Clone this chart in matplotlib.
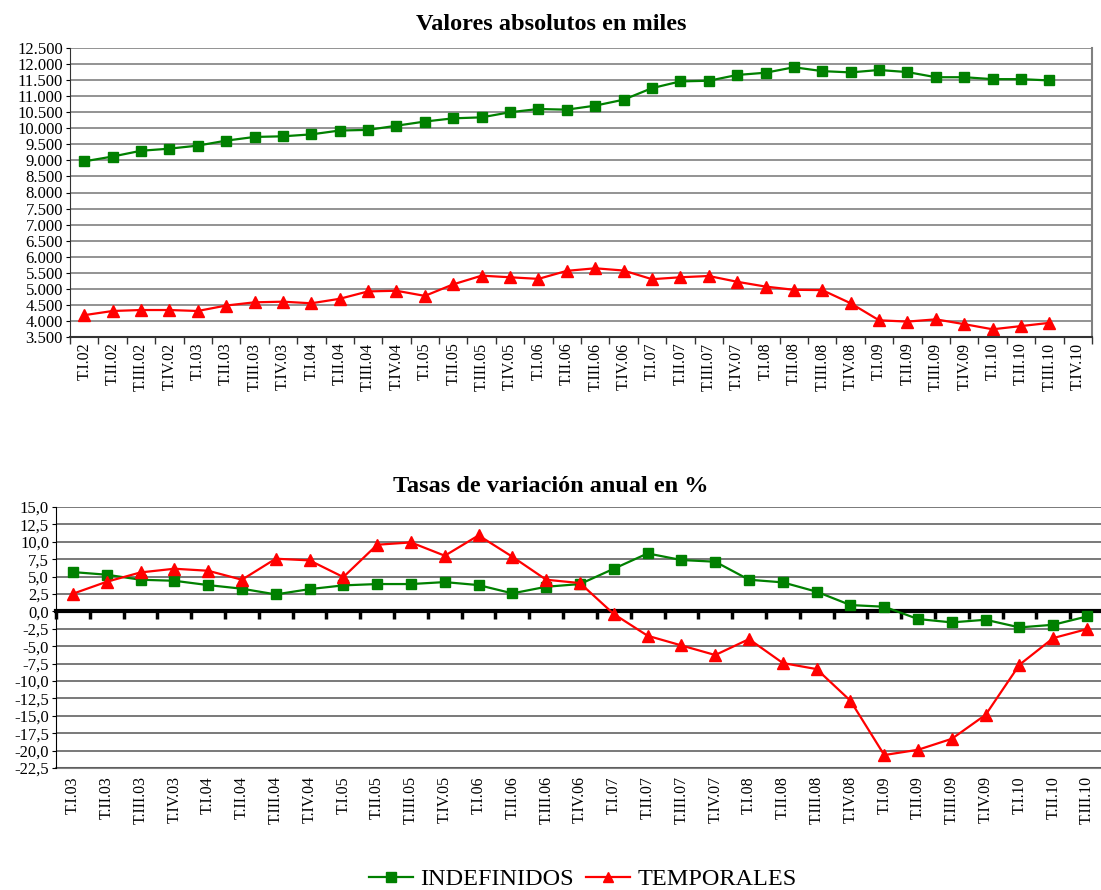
import numpy as np
import matplotlib.pyplot as plt
from matplotlib.ticker import FuncFormatter, FixedLocator

plt.rcParams['font.family'] = ['Liberation Serif', 'DejaVu Serif']

# Quarter labels
top_labels = ['T.I.02', 'T.II.02', 'T.III.02', 'T.IV.02', 'T.I.03', 'T.II.03', 'T.III.03', 'T.IV.03',
              'T.I.04', 'T.II.04', 'T.III.04', 'T.IV.04', 'T.I.05', 'T.II.05', 'T.III.05', 'T.IV.05',
              'T.I.06', 'T.II.06', 'T.III.06', 'T.IV.06', 'T.I.07', 'T.II.07', 'T.III.07', 'T.IV.07',
              'T.I.08', 'T.II.08', 'T.III.08', 'T.IV.08', 'T.I.09', 'T.II.09', 'T.III.09', 'T.IV.09',
              'T.I.10', 'T.II.10', 'T.III.10', 'T.IV.10']
bottom_labels = top_labels[4:35]

# Absolute values (thousands)
indef_abs = [8970, 9120, 9300, 9365, 9460, 9615, 9730, 9750, 9810, 9930, 9950, 10080,
             10210, 10310, 10340, 10500, 10600, 10580, 10705, 10890, 11250, 11460, 11480,
             11660, 11730, 11900, 11780, 11740, 11815, 11750, 11590, 11590, 11530, 11530, 11490]
temp_abs = [4180, 4310, 4340, 4340, 4310, 4480, 4580, 4600, 4550, 4690, 4920, 4940,
            4780, 5140, 5410, 5360, 5310, 5560, 5640, 5570, 5300, 5360, 5400,
            5220, 5070, 4970, 4960, 4550, 4020, 3980, 4050, 3900, 3740, 3840, 3940]

# Annual variation rates (%)
indef_var = [5.65, 5.27, 4.55, 4.4, 3.78, 3.26, 2.44, 3.2, 3.74, 3.93, 3.93, 4.21, 3.78,
             2.59, 3.54, 3.93, 6.13, 8.33, 7.38, 7.14, 4.55, 4.17, 2.83, 0.91, 0.67,
             -1.1, -1.58, -1.2, -2.3, -1.92, -0.72]
temp_var = [2.54, 4.26, 5.6, 6.13, 5.84, 4.55, 7.57, 7.33, 4.93, 9.58, 9.91, 8.0, 10.92,
            7.85, 4.55, 4.07, -0.38, -3.5, -4.89, -6.27, -3.98, -7.42, -8.29, -12.84,
            -20.64, -19.88, -18.3, -14.85, -7.66, -3.83, -2.54]

green = '#008000'
red = '#ff0000'

fig = plt.figure(figsize=(11.01, 8.9), dpi=100)

# ---------- top chart ----------
ax1 = fig.add_axes([70 / 1101, 1 - 337 / 890, 1022 / 1101, 289 / 890])
x1 = np.arange(len(indef_abs))
ax1.plot(x1, indef_abs, color=green, lw=1.6, marker='s', ms=7.5, mec=green, mfc=green)
ax1.plot(x1, temp_abs, color=red, lw=1.6, marker='^', ms=8, mec=red, mfc=red)
ax1.set_xlim(-0.5, len(top_labels) - 0.5)
ax1.set_ylim(3500, 12500)
ax1.set_yticks(np.arange(3500, 12501, 500))
ax1.yaxis.set_major_formatter(FuncFormatter(lambda v, p: f'{int(v):,}'.replace(',', '.')))
ax1.yaxis.grid(True, color='#808080', lw=1.2)
ax1.set_axisbelow(True)
ax1.xaxis.set_major_locator(FixedLocator(np.arange(len(top_labels) + 1) - 0.5))
ax1.xaxis.set_minor_locator(FixedLocator(np.arange(len(top_labels))))
ax1.set_xticklabels([], minor=False)
ax1.set_xticklabels(top_labels, minor=True, rotation=90, fontsize=11.5)
ax1.tick_params(axis='x', which='major', length=5, width=1, color='#333333')
ax1.tick_params(axis='x', which='minor', length=0, pad=4)
ax1.tick_params(axis='y', length=3, labelsize=12, pad=2)
ax1.spines['top'].set_visible(False)
ax1.spines['right'].set_color('#808080')
ax1.spines['right'].set_linewidth(1.5)
ax1.spines['left'].set_color('#333333')
ax1.spines['bottom'].set_color('#333333')
ax1.spines['bottom'].set_linewidth(1.5)
fig.text(551 / 1101, 1 - 24 / 890, 'Valores absolutos en miles', ha='center', va='center',
         fontsize=17.5, fontweight='bold')

# ---------- bottom chart ----------
ax2 = fig.add_axes([56 / 1101, 1 - 768 / 890, 1048 / 1101, 261 / 890])
x2 = np.arange(len(indef_var))
l1, = ax2.plot(x2, indef_var, color=green, lw=1.6, marker='s', ms=7.5, mec=green, mfc=green,
               label='INDEFINIDOS', zorder=4)
l2, = ax2.plot(x2, temp_var, color=red, lw=1.6, marker='^', ms=8, mec=red, mfc=red,
               label='TEMPORALES', zorder=4)
ax2.set_xlim(-0.5, len(bottom_labels) - 0.5)
ax2.set_ylim(-22.5, 15)
ax2.set_yticks(np.arange(-22.5, 15.01, 2.5))
ax2.yaxis.set_major_formatter(FuncFormatter(lambda v, p: f'{v:.1f}'.replace('.', ',')))
ax2.yaxis.grid(True, color='#555555', lw=1.1)
ax2.set_axisbelow(True)
ax2.spines['bottom'].set_position(('data', 0))
ax2.spines['bottom'].set_linewidth(3)
ax2.spines['bottom'].set_zorder(3)
ax2.spines['top'].set_visible(False)
ax2.spines['right'].set_visible(False)
ax2.xaxis.set_major_locator(FixedLocator(np.arange(len(bottom_labels) + 1) - 0.5))
ax2.set_xticklabels([])
ax2.tick_params(axis='x', length=6, width=2.5, direction='out', color='black')
ax2.tick_params(axis='y', length=3, labelsize=12, pad=2)
sec = ax2.secondary_xaxis('bottom')
sec.set_xticks(x2)
sec.set_xticklabels(bottom_labels, rotation=90, fontsize=11.5)
sec.tick_params(length=0, pad=6)
sec.spines['bottom'].set_color('#808080')
sec.spines['bottom'].set_linewidth(1.5)
fig.text(551 / 1101, 1 - 486 / 890, 'Tasas de variación anual en %', ha='center', va='center',
         fontsize=17.5, fontweight='bold')

fig.legend(handles=[l1, l2], loc='center', bbox_to_anchor=(583 / 1101, 1 - 879 / 890),
           ncol=2, frameon=False, fontsize=17.5, handlelength=1.8, handletextpad=0.3,
           columnspacing=0.5, markerscale=0.9)

fig.savefig('out.png', dpi=100)
